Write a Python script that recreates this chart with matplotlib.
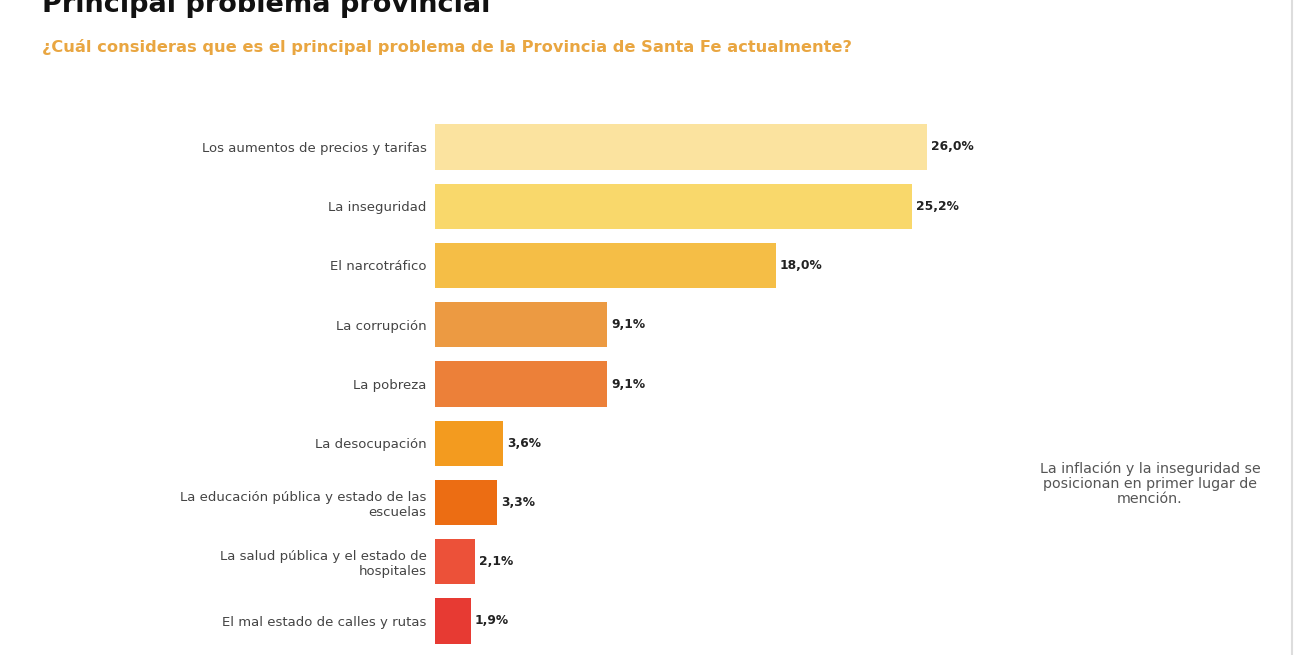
import matplotlib.pyplot as plt
import numpy as np
from matplotlib.lines import Line2D

# datos
categorias = [
    "Los aumentos de precios y tarifas",
    "La inseguridad",
    "El narcotráfico",
    "La corrupción",
    "La pobreza",
    "La desocupación",
    "La educación pública y estado de las\nescuelas",
    "La salud pública y el estado de\nhospitales",
    "El mal estado de calles y rutas",
]
valores = [26.0, 25.2, 18.0, 9.1, 9.1, 3.6, 3.3, 2.1, 1.9]
etiquetas = ["26,0%", "25,2%", "18,0%", "9,1%", "9,1%", "3,6%", "3,3%", "2,1%", "1,9%"]
colores = ["#FBE39F", "#F9D86B", "#F5BE46", "#EC9A42", "#EC8039",
           "#F39B1F", "#EC6D13", "#EC5139", "#E73A33"]

plt.rcParams['font.family'] = ['DejaVu Sans']

fig = plt.figure(figsize=(13, 6.55), dpi=100)
W, H = 1300, 655

# ejes en pixeles
x0 = 435
ancho = 600
px_por_pct = 18.92
paso = 59.25
ytop = 147 - 0.6 * paso
ybot = 621 + 0.55 * paso
ax = fig.add_axes([x0 / W, (H - ybot) / H, ancho / W, (ybot - ytop) / H])

y = np.arange(len(valores))
ax.barh(y, valores, height=0.76, color=colores)
ax.set_xlim(0, ancho / px_por_pct)
ax.set_ylim(len(valores) - 1 + 0.55, -0.6)

for yi, v, et in zip(y, valores, etiquetas):
    ax.text(v + 0.2, yi, et, va='center', ha='left', fontsize=8.8,
            fontweight='bold', color='#222222')

ax.set_yticks(y)
ax.set_yticklabels(categorias, fontsize=9.5, color='#444444', linespacing=1.2)
ax.tick_params(axis='y', length=0, pad=6)
ax.set_xticks([])
for s in ax.spines.values():
    s.set_visible(False)

# titulos
fig.text(42 / W, 1 - 12 / H, "Principal problema provincial", fontsize=19.5,
         fontweight='bold', color='#111111', va='baseline', ha='left')
fig.text(42 / W, 1 - 47 / H,
         "¿Cuál consideras que es el principal problema de la Provincia de Santa Fe actualmente?",
         fontsize=11.7, fontweight='bold', color='#E9A641', va='center', ha='left')

# nota
fig.text(1150 / W, 1 - 484 / H,
         "La inflación y la inseguridad se\nposicionan en primer lugar de\nmención.",
         fontsize=10.3, color='#555555', ha='center', va='center', linespacing=1.1)

# linea gris borde derecho
fig.add_artist(Line2D([1292 / W, 1292 / W], [0, 1], color='#DDDDDD', lw=1.5))

fig.savefig("out.png", dpi=100)
